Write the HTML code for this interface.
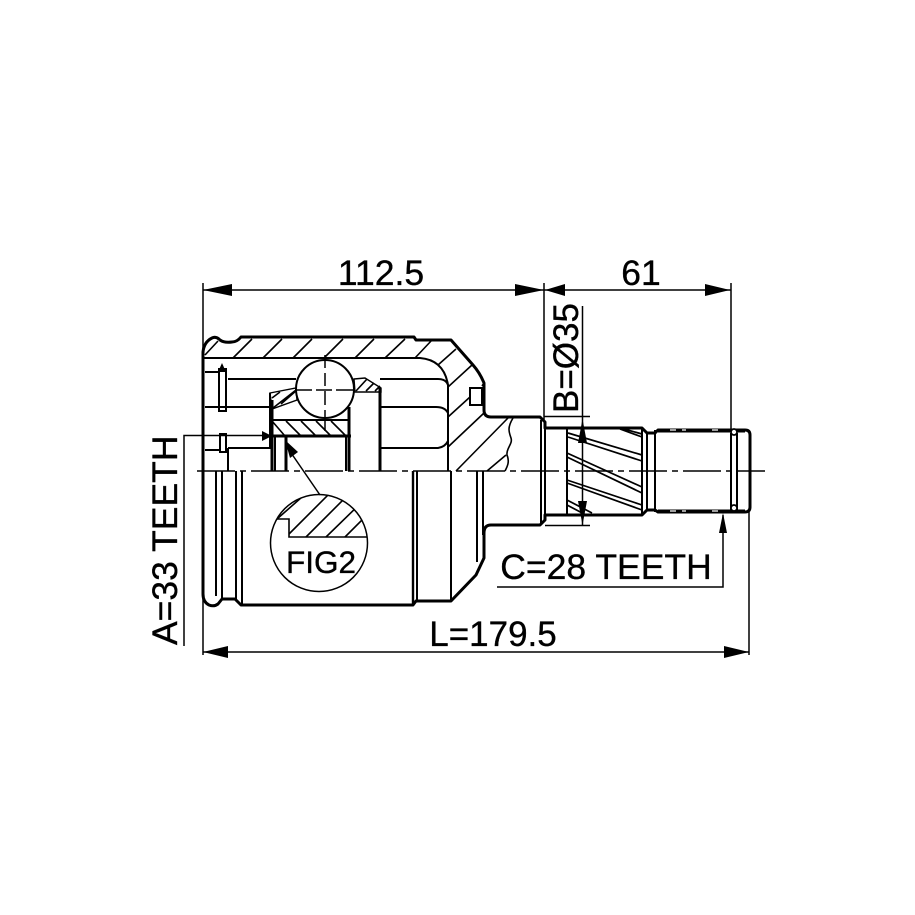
<!DOCTYPE html>
<html><head><meta charset="utf-8"><style>
html,body{margin:0;padding:0;background:#fff}
svg{display:block}
text{font-family:"Liberation Sans",sans-serif;fill:#000;stroke:#000;stroke-width:.35}
</style></head><body>
<svg width="915" height="915" viewBox="0 0 915 915" xmlns="http://www.w3.org/2000/svg">
<rect width="915" height="915" fill="#fff"/>
<defs><clipPath id="c"><circle cx="319" cy="543" r="48"/></clipPath></defs>
<!-- hatching -->
<g fill="none" stroke="#000" stroke-width="1.6">
<path d="M205 355L218 341M233 358L252 339M263 358L282 339M293 358L312 339M324 358L343 339M355 358L374 339M385 358L405 339M415 358L432 340M438 365L456 349M448 387L472 365M448 417L470 397M482 386L484 383M448 447L484 413M456 471L508 418M487 471L506 455"/>
<path d="M513 418C507 428 509 432 511 438C513 444 506 448 507 455C510 462 507 467 505 471"/>
<path d="M272 421L285 436M286 421L301 436M301 421L316 436M316 421L331 436M331 421L346 436"/>
<path d="M273 408L296 390M281 404L297 390M272 398L280 392M356 391L367 379M366 391L374 383M375 391L380 386"/>
</g>
<path d="M270 393L296 388L297 400L272 409Z" fill="none" stroke="#000" stroke-width="1.4"/>
<path d="M354 379L365 378L381 388V392H355Z" fill="none" stroke="#000" stroke-width="1.4"/>
<!-- outer contour -->
<g fill="none" stroke="#000" stroke-width="3" stroke-linejoin="round">
<path d="M203 471V352Q204 342 212 338Q216 336 220 340Q224 343 232 342Q237 342 241 337H414L416 340H451L473 365Q480 373 484 383V410Q484 417 491 417H540L545 422V428H642L647 433H655L658 430H745Q750 430 750 435V507Q750 512 745 512H658L655 510H647L642 515H545V520L540 525H491Q484 525 484 533V558L476 575L451 601H416L413 605H241L235 599H222L218 604Q214 607 209 605Q203 602 203 594V471"/>
<path d="M272 400V471M286 436V471M349 407V471M380 388V471M272 436H351"/>
<path d="M413 471V605" stroke-width="2.4"/>
<path d="M658 430.5H745M658 511.5H745" stroke-width="4"/>
</g>
<!-- thin internals -->
<g fill="none" stroke="#000" stroke-width="2">
<path d="M203 358H420Q444 360 448 385V471"/>
<path d="M228 379H296M380 379H438Q446 379 448 385M205 372H220M205 407H270M380 407H436Q445 407 448 413M380 448H438Q445 447 448 441M205 450H220M228 448H270V400M228 448V471"/>
<path d="M270 393V400M272 420H349"/>
<rect x="219" y="369" width="7" height="42"/>
<rect x="220" y="434" width="6" height="18"/>
<path d="M222 372V365M346 437V471M275 437V471"/>
<circle cx="325" cy="389" r="29" fill="#fff"/>
<rect x="470" y="388" width="12" height="17" fill="#fff"/>
<path d="M216 471V596M222 471V600M236 471V599M242 471V605M417 471V601M451 471V601M477 471V562M483 471V535"/>
<path d="M541 420V525M545 428V515"/>
<path d="M567 428V515M642 428V515M647 433V510M655 430V512M731 433V510M737 433V510"/>
</g>
<!-- helical -->
<g fill="none" stroke="#000" stroke-width="1.7">
<path d="M568 433L642 455M568 437L642 461M620 429L642 437M624 429L642 434M567 453L642 487M567 457L642 493M567 480L642 505M567 483L642 510M567 500L592 513M567 505L586 515"/>
<circle cx="734" cy="432" r="3" fill="#fff"/><circle cx="734" cy="508" r="3" fill="#fff"/>
</g>
<!-- ball centrelines -->
<g stroke="#000" stroke-width="1.5" fill="none">
<path d="M325 355V368M325 373V386M325 391V405M325 410V431M297 390H312M316 390H332M336 390H354"/>
</g>
<!-- FIG2 -->
<circle cx="319" cy="543" r="48.5" fill="#fff" stroke="#000" stroke-width="1.5"/>
<g clip-path="url(#c)" fill="none" stroke="#000" stroke-width="1.6">
<path d="M277 519H289V537H368"/>
<path d="M277 519L310 490M289 534L329 494M306 537L352 491M326 537L364 500M345 537L372 510"/>
</g>
<path d="M287 447L320 495" stroke="#000" stroke-width="1.5"/>
<path d="M285 440L298 452L290 458Z" fill="#000"/>
<!-- centreline -->
<path d="M197 471H765" stroke="#000" stroke-width="1.5" stroke-dasharray="38 5 6 5" fill="none"/>
<!-- dimensions -->
<g fill="none" stroke="#000" stroke-width="1.5">
<path d="M203 283V655M544 283V420M731 283V430M203 290H731M203 652H749M749 512V655"/>
<path d="M497 587H723V515"/>
<path d="M184 646V435.5H264"/>
<path d="M582.5 306V525M544 416.5H590M545 525.5H590"/>
</g>
<g fill="#000">
<path d="M203 290L232 284V296ZM544 290L515 284V296ZM545 290L565 284V296ZM730 290L705 284V296Z"/>
<path d="M203 652L228 646V658ZM749 652L724 646V658Z"/>
<path d="M582.5 419L587 443H578ZM582.5 525L587 501H578Z"/>
<path d="M723 513L727 533H719Z"/>
<path d="M272 436L262 431V441Z"/>
<path d="M222 363L226 372H218Z"/>
</g>
<!-- white dashes on thick shaft edge -->
<path d="M670 430H676M682 430H686M712 430H718M670 511H676M682 511H686M712 511H718" stroke="#fff" stroke-width="1.2"/>
<!-- labels -->
<g font-size="35.5">
<text x="381" y="285" text-anchor="middle">112.5</text>
<text x="641" y="285" text-anchor="middle">61</text>
<text x="493" y="646" text-anchor="middle" font-size="35">L=179.5</text>
<text x="606" y="579" text-anchor="middle">C=28 TEETH</text>
<text transform="translate(177,645) rotate(-90)">A=33 TEETH</text>
<text transform="translate(578,413) rotate(-90)" font-size="35">B=Ø35</text>
</g>
<text x="321" y="573" text-anchor="middle" font-size="31.5">FIG2</text>
</svg>
</body></html>
